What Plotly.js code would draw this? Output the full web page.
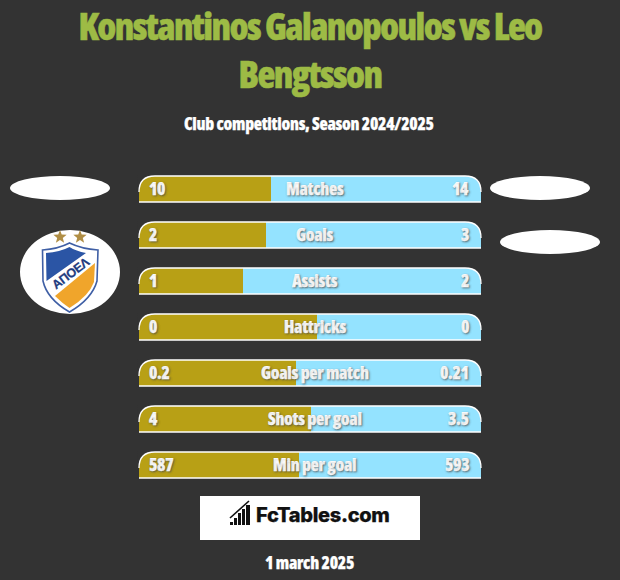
<!DOCTYPE html>
<html>
<head>
<meta charset="utf-8">
<script src="https://cdn.plot.ly/plotly-3.0.1.min.js"></script>
<style>html,body{margin:0;padding:0;background:#333333;overflow:hidden}#chart{width:620px;height:580px}
.annotation-text,.gtitle{font-stretch:75% !important}
.annotation-text{letter-spacing:-0.3px}
.gtitle{letter-spacing:-1.6px;stroke:#9DBB45;stroke-width:0.5px}</style>
</head>
<body>
<div id="chart"></div>
<script>
const categories = ['Matches','Goals','Assists','Hattricks','Goals per match','Shots per goal','Min per goal'];
const leftLabels = ['10','2','1','0','0.2','4','587'];
const rightLabels = ['14','3','2','0','0.21','3.5','593'];
const leftShare = [38.6,37.1,30.4,52,45.9,50.3,46.8];
const rightShare = [61.4,62.9,69.6,48,54.1,49.7,53.2];
const titleText = 'Konstantinos Galanopoulos vs Leo<br>Bengtsson';
const subtitleText = 'Club competitions, Season 2024/2025';
const dateText = '1 march 2025';
const brandText = 'FcTables.com';
const crestText = 'ΑΠΟΕΛ';

const BG='#333333', GOLD='#B8A015', SKY='#94E3FF', GREEN='#9DBB45';
const FONT='"Open Sans",sans-serif';
const W=620,H=580;
const X=v=>+(v/W).toFixed(5), Y=v=>+(1-v/H).toFixed(5);
function path(pts){
  return pts.map(p=>{
    if(typeof p==='string') return p;
    const out=[]; for(let i=0;i<p.length;i+=2) out.push(X(p[i])+','+Y(p[i+1]));
    return out.join(' ');
  }).join(' ');
}
function pShape(pts,fill,line,lw){
  return {type:'path',xref:'paper',yref:'paper',path:path(pts),fillcolor:fill||'rgba(0,0,0,0)',
          line:{color:line||'rgba(0,0,0,0)',width:lw||0},layer:'above'};
}
function ellipse(cx,cy,rx,ry,fill){
  return {type:'circle',xref:'paper',yref:'paper',x0:X(cx-rx),x1:X(cx+rx),y0:Y(cy+ry),y1:Y(cy-ry),
          fillcolor:fill,line:{width:0},layer:'above'};
}
function rect(x0,y0,x1,y1,fill){
  return {type:'rect',xref:'paper',yref:'paper',x0:X(x0),x1:X(x1),y0:Y(y1),y1:Y(y0),
          fillcolor:fill,line:{width:0},layer:'above'};
}
function star(cx,cy,r,fill){
  const pts=[];
  for(let i=0;i<10;i++){
    const a=-Math.PI/2+i*Math.PI/5, q=i%2?r*0.42:r;
    pts.push(i?'L':'M',[cx+q*Math.cos(a),cy+q*Math.sin(a)]);
  }
  pts.push('Z');
  return pShape(pts,fill);
}

const shapes=[];
const L=139,R=481,BH=26,RAD=16;
categories.forEach((c,i)=>{
  const t=176+46*i;
  shapes.push(pShape(['M',[L-1,t-1],'L',[L+RAD+1,t-1],'L',[L+RAD+1,t],'Q',[L,t,L,t+RAD],'L',[L-1,t+RAD],'Z'],BG));
  shapes.push(pShape(['M',[R+1,t-1],'L',[R-RAD-1,t-1],'L',[R-RAD-1,t],'Q',[R,t,R,t+RAD],'L',[R+1,t+RAD],'Z'],BG));
  shapes.push(pShape(['M',[L,t+RAD],'Q',[L,t,L+RAD,t],'L',[R-RAD,t],'Q',[R,t,R,t+RAD]],null,'#FFFFFF',1.3));
  shapes.push(pShape(['M',[L,t+BH],'L',[R,t+BH]],null,'#FFFFFF',1.5));
});
shapes.push(ellipse(60,188,50,12,'#FFFFFF'));
shapes.push(ellipse(540,188,50,12,'#FFFFFF'));
shapes.push(ellipse(550,242,50,12,'#FFFFFF'));
shapes.push(ellipse(70,272,50,42,'#FFFFFF'));
shapes.push(star(60,237,7,'#B08E45'));
shapes.push(star(80,237,7,'#B08E45'));
shapes.push(pShape(['M',[42.5,250],'Q',[58,249,69.5,243],'Q',[82,249,98,250],'L',[97,281],'Q',[92,299,69.5,312],'Q',[47,299,43,281],'Z'],'#FFFFFF','#3F5FA5',1.6));
shapes.push(pShape(['M',[46,253],'Q',[60,252,69.5,247],'Q',[76,251,86,253],'L',[46.5,281],'Z'],'#2B55A5'));
shapes.push(pShape(['M',[95,263],'L',[94,282],'Q',[89,296,69.5,308],'Q',[62,303,55,296],'Z'],'#F0A52B'));
shapes.push(rect(200,496,420,540,'#FFFFFF'));
[[230,522,233,525],[234,518,237,525],[238,513,241,525],[242,509,245,525],[246,505,250,525]].forEach(b=>{
  shapes.push(rect(b[0],b[1],b[2],b[3],'#111111'));
});
shapes.push(pShape(['M',[230,518],'L',[249,501]],null,'#111111',1.6));

const ann=[];
const txt=(t,x,y,size,color,extra)=>Object.assign({text:t,xref:'paper',yref:'paper',x:X(x),y:Y(y),
  showarrow:false,xanchor:'center',yanchor:'middle',font:{family:FONT,size:size,color:color,weight:800}},extra||{});
ann.push(txt(subtitleText,309.5,124,17,'#FFFFFF'));
ann.push(txt(dateText,309.5,562,17,'#FFFFFF'));
ann.push(txt(brandText,323,515.5,20,'#111111',{font:{family:'Inter,"Noto Sans",sans-serif',size:20,color:'#111111',weight:800}}));
ann.push(txt(crestText,71.5,273,12.5,'#1F3C80',{textangle:-37,font:{family:'"Liberation Sans",sans-serif',size:12.5,color:'#1F3C80',weight:700}}));
const SHADOW='1px 1px 2px rgba(70,70,70,0.75)';
categories.forEach((c,i)=>{
  const f={family:FONT,size:17,color:'#FFFFFF',weight:800,shadow:SHADOW};
  const base={xref:'paper',yref:'y',y:c,yshift:1,showarrow:false,yanchor:'middle',font:f};
  ann.push(Object.assign({},base,{text:c,x:X(314.5),xanchor:'center'}));
  ann.push(Object.assign({},base,{text:leftLabels[i],x:X(147.5),xanchor:'left'}));
  ann.push(Object.assign({},base,{text:rightLabels[i],x:X(471),xanchor:'right'}));
});

const traces=[
  {type:'bar',orientation:'h',y:categories,x:leftShare,marker:{color:GOLD,line:{width:0}},hoverinfo:'skip',showlegend:false},
  {type:'bar',orientation:'h',y:categories,x:rightShare,marker:{color:SKY,line:{width:0}},hoverinfo:'skip',showlegend:false}
];
const layout={
  width:W,height:H,margin:{l:0,r:0,t:0,b:0},paper_bgcolor:BG,plot_bgcolor:BG,
  barmode:'stack',bargap:1-BH/46,showlegend:false,
  title:{text:titleText,x:0.5,xanchor:'center',y:1-40/H,yanchor:'middle',
         font:{family:FONT,size:37,color:GREEN,weight:800}},
  xaxis:{domain:[X(L),X(R)],range:[0,100],visible:false,fixedrange:true},
  yaxis:{domain:[Y(488),Y(166)],type:'category',categoryorder:'array',categoryarray:categories,
         range:[6.5,-0.5],visible:false,fixedrange:true},
  shapes:shapes,annotations:ann
};
Plotly.newPlot('chart',traces,layout,{displayModeBar:false,staticPlot:true}).then(()=>{
  document.querySelectorAll('.annotation-text').forEach(t=>{
    t.style.stroke=t.style.fill; t.style.strokeWidth='0.25px';
  });
});
</script>
</body>
</html>
